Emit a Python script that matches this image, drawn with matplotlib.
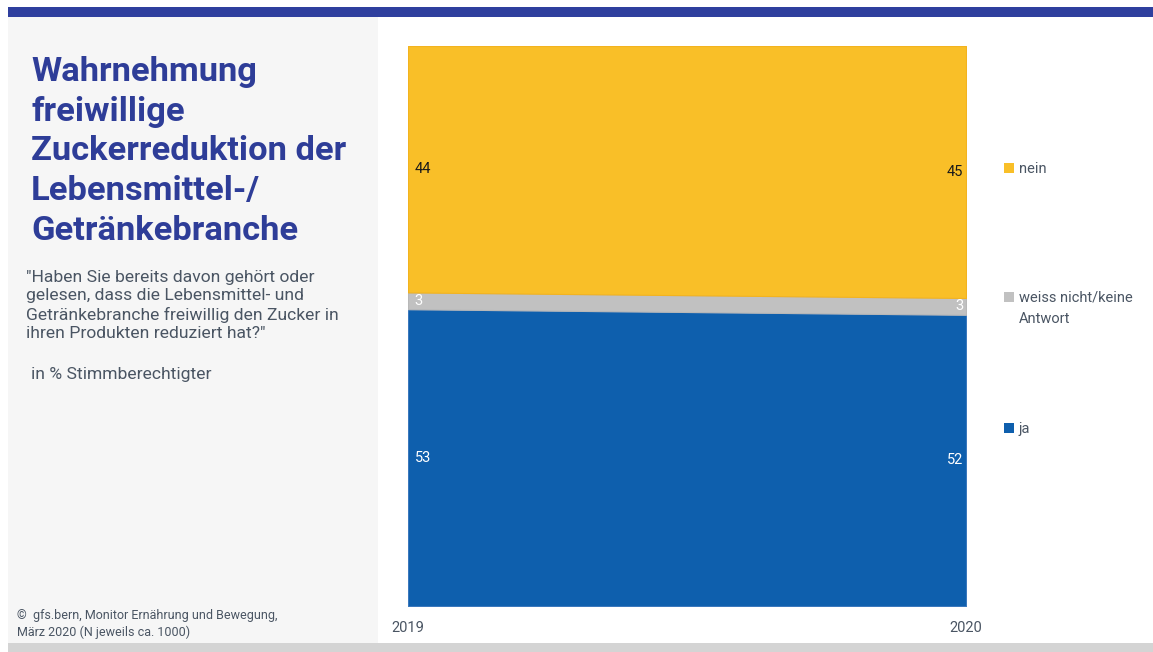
import numpy as np
import matplotlib.pyplot as plt
from matplotlib.patches import Rectangle

# survey results in % (stacked bottom to top)
years = [2019, 2020]
ja = [53, 52]
weiss_nicht = [3, 3]
nein = [44, 45]

series = [ja, weiss_nicht, nein]
labels = ["ja", "weiss nicht/keine\nAntwort", "nein"]
colors = ["#0E5FAD", "#C1C1C1", "#F9BF28"]
edges = ["#3B78BD", "#B8B8B8", "#F3B31F"]
text_colors = ["white", "white", "#1A1A1A"]

title = "Wahrnehmung\nfreiwillige\nZuckerreduktion der\nLebensmittel-/\nGetränkebranche"
question = ('"Haben Sie bereits davon gehört oder\ngelesen, dass die Lebensmittel- und\n'
            'Getränkebranche freiwillig den Zucker in\nihren Produkten reduziert hat?"')
unit = "in % Stimmberechtigter"
source = "©  gfs.bern, Monitor Ernährung und Bewegung,\nMärz 2020 (N jeweils ca. 1000)"

plt.rcParams['font.family'] = ['Roboto', 'DejaVu Sans']
W, H = 1153, 652
fig = plt.figure(figsize=(W / 100, H / 100), dpi=100)
fig.patch.set_facecolor("white")

def px(x, y, w, h):
    return (x / W, 1 - (y + h) / H, w / W, h / H)

# frame: top stripe, left panel, bottom stripe
for (x, y, w, h, c) in [(8, 7, 1145, 10, "#2F3F9E"), (8, 17, 370, 626, "#F6F6F6"),
                        (8, 643, 1145, 9, "#D4D4D4")]:
    l, b, ww, hh = px(x, y, w, h)
    fig.patches.append(Rectangle((l, b), ww, hh, transform=fig.transFigure,
                                 facecolor=c, edgecolor="none", zorder=0))

fig.text(31 / W, 1 - 56 / H, title, ha="left", va="top", fontsize=24.8, fontweight="bold",
         color="#2E3D98", linespacing=1.31)
fig.text(26 / W, 1 - 270 / H, question, ha="left", va="top", fontsize=12.6,
         color="#4A5563", linespacing=1.26)
fig.text(31 / W, 1 - 367 / H, unit, ha="left", va="top", fontsize=12.6, color="#4A5563")
fig.text(17 / W, 1 - 609 / H, source, ha="left", va="top", fontsize=9, color="#4A5563",
         linespacing=1.3)

ax = fig.add_axes(px(408, 46, 558, 560))
bottom = np.zeros(len(years))
for vals, c, ec, tc in zip(series, colors, edges, text_colors):
    vals = np.array(vals)
    ax.fill_between(years, bottom, bottom + vals, facecolor=c, edgecolor=ec, linewidth=0.8)
    # value labels in the middle of each band
    mid = bottom + vals / 2
    ax.text(years[0] + 0.012, mid[0], str(vals[0]), ha="left", va="center",
            fontsize=10.5, color=tc)
    ax.text(years[-1] - 0.005, mid[-1], str(vals[-1]), ha="right", va="center",
            fontsize=10.5, color=tc)
    bottom += vals
ax.set_xlim(years[0], years[-1])
ax.set_ylim(0, 100)
ax.axis("off")

for yr in years:
    fig.text((408 + (yr - years[0]) * 558) / W, 1 - 628 / H, str(yr), ha="center",
             va="center", fontsize=10.5, color="#4A5563")

# legend on the right
legend_y = [428, 297, 168]
for lab, c, yy in zip(labels, colors, legend_y):
    l, b, ww, hh = px(1004, yy - 5, 10, 10)
    fig.patches.append(Rectangle((l, b), ww, hh, transform=fig.transFigure,
                                 facecolor=c, edgecolor="none"))
    fig.text(1019 / W, 1 - (yy - 6) / H, lab, ha="left", va="top", fontsize=10.5,
             color="#4A5563", linespacing=1.6)

fig.savefig("out.png", dpi=100)
